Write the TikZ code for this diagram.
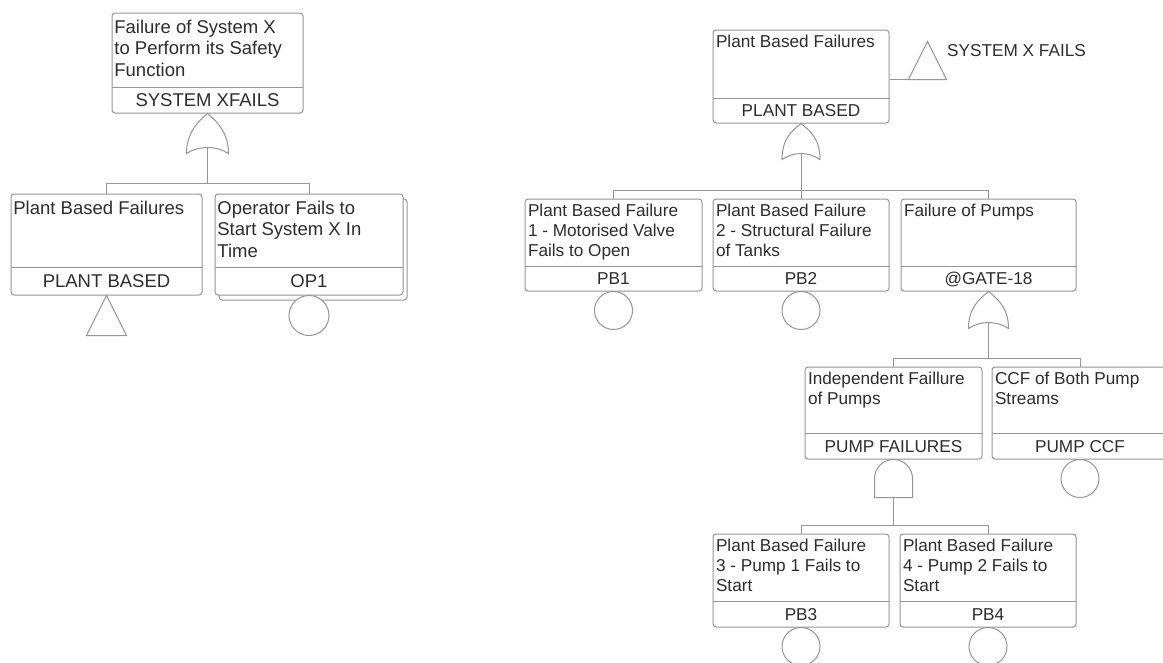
\documentclass[tikz,border=0pt]{standalone}
\usepackage{fontspec}
\setmainfont{Liberation Sans}
\usetikzlibrary{fit,calc}
\definecolor{lncol}{RGB}{150,150,150}
\definecolor{txtcol}{RGB}{45,45,45}
\tikzset{
  ln/.style={draw=lncol, line width=1pt},
  evbox/.style={ln, fill=white, rounded corners=3pt, inner sep=0pt},
  descL/.style={font=\fontsize{18.5}{21.3}\selectfont, text=txtcol, inner sep=0pt, align=left, anchor=north west, xshift=2.7pt, yshift=-7.5pt},
  descR/.style={font=\fontsize{17.2}{20.3}\selectfont, text=txtcol, inner sep=0pt, align=left, anchor=north west, xshift=3.3pt, yshift=-5pt},
  codeL/.style={font=\fontsize{18.5}{21.3}\selectfont, text=txtcol, inner sep=0pt, anchor=base, yshift=-6.6pt},
  codeR/.style={font=\fontsize{17.2}{20.3}\selectfont, text=txtcol, inner sep=0pt, anchor=base, yshift=-6.2pt},
  evcirc/.style={ln, fill=white, circle, minimum size=38pt, inner sep=0pt},
}
% name, x1, y1, x2, y2, ydiv, description, code, L/R
\newcommand\evbox[9]{%
  \node[evbox, fit={(#2,#3) (#4,#5)}] (#1) {};
  \draw[ln] (#2,#6) -- (#4,#6);
  \node[desc#9] (#1-d) at (#1.north west) {#7};
  \node[code#9] (#1-c) at ({(#2+#4)/2},{(#6+#5)/2}) {#8};
}
% OR gate under node #1: height #2, half width #3, bar depth #4
\newcommand\orgate[4]{%
  \coordinate (#1-g) at (#1.south);
  \draw[ln] ($(#1-g)+(-#3,#2)$) .. controls +(0,-20) and +(-10,8) .. (#1-g)
     .. controls +(10,8) and +(0,-20) .. ($(#1-g)+(#3,#2)$)
     .. controls +(-12,-8) and +(12,-8) .. ($(#1-g)+(-#3,#2)$) -- cycle;
  \coordinate (#1-in) at ($(#1-g)+(0,#2-6)$);
  \coordinate (#1-bar) at ($(#1-g)+(0,#4)$);
  \draw[ln] (#1-in) -- (#1-bar);
}
% AND gate under node #1: height #2, half width #3, bar depth #4
\newcommand\andgate[4]{%
  \coordinate (#1-g) at (#1.south);
  \draw[ln] ($(#1-g)+(-#3,#2)$) -- ++(0,-#2+#3) arc[start angle=180, end angle=0, radius=#3pt] -- ++(0,#2-#3) -- cycle;
  \coordinate (#1-in) at ($(#1-g)+(0,#2)$);
  \coordinate (#1-bar) at ($(#1-g)+(0,#4)$);
  \draw[ln] (#1-in) -- (#1-bar);
}
\begin{document}
\begin{tikzpicture}[x=1pt,y=-1pt]
\useasboundingbox (0,0) rectangle (1163,662);
\fill[white] (0,0) rectangle (1163,662);
\clip (0,0) rectangle (1163,662);

% ---------- left tree ----------
\evbox{sysx}{112}{13}{303}{113}{87}{Failure of System X\\to Perform its Safety\\Function}{SYSTEM XFAILS}{L}
\evbox{plantL}{11}{194}{202}{295}{267}{Plant Based Failures}{PLANT BASED}{L}
\node[evbox, fit={(219,199) (407,300)}] (op1s) {};
\evbox{op1}{215}{194}{403}{295}{267}{Operator Fails to\\Start System X In\\Time}{OP1}{L}
\orgate{sysx}{40}{21}{70}
\draw[ln] (sysx-bar) -| (plantL.north);
\draw[ln] (sysx-bar) -| (op1.north);
\draw[ln] (plantL.south) -- ++(20,40) -- ++(-40,0) -- cycle;
\node[evcirc, minimum size=40pt] (op1-e) at ($(op1.south)+(0,20)$) {};

% ---------- right tree ----------
\evbox{pbtop}{713}{30}{889}{123}{98}{Plant Based Failures}{PLANT BASED}{R}
\coordinate (xfl) at ($(pbtop.north east)+(0,50)$);
\coordinate (xft) at ($(xfl)+(19,0)$);
\draw[ln] (xfl) -- (xft);
\draw[ln] (xft) -- ++(38,0) -- ++(-19,-38) -- cycle;
\node[font=\fontsize{17.2}{20.3}\selectfont, text=txtcol, inner sep=0pt, anchor=base west] (xfails) at (947,56.7) {SYSTEM X FAILS};

\evbox{pb1}{525}{199}{702}{291}{266}{Plant Based Failure\\1 - Motorised Valve\\Fails to Open}{PB1}{R}
\evbox{pb2}{713}{199}{889}{291}{266}{Plant Based Failure\\2 - Structural Failure\\of Tanks}{PB2}{R}
\evbox{pumps}{901}{199}{1076}{291}{266}{Failure of Pumps}{@GATE-18}{R}
\orgate{pbtop}{36}{19}{67}
\draw[ln] (pbtop-bar) -| (pb1.north);
\draw[ln] (pbtop-bar) -| (pb2.north);
\draw[ln] (pbtop-bar) -| (pumps.north);
\node[evcirc] (pb1-e) at ($(pb1.south)+(0,19)$) {};
\node[evcirc] (pb2-e) at ($(pb2.south)+(0,19)$) {};

\evbox{indep}{805}{367}{982}{459}{433}{Independent Faillure\\of Pumps}{PUMP FAILURES}{R}
\evbox{ccf}{992}{367}{1168}{459}{433}{CCF of Both Pump\\Streams}{PUMP CCF}{R}
\orgate{pumps}{37}{20}{67}
\draw[ln] (pumps-bar) -| (indep.north);
\draw[ln] (pumps-bar) -| (ccf.north);
\node[evcirc] (ccf-e) at ($(ccf.south)+(0,19)$) {};

\evbox{pb3}{713}{534}{889}{627}{601}{Plant Based Failure\\3 - Pump 1 Fails to\\Start}{PB3}{R}
\evbox{pb4}{900}{534}{1076}{627}{601}{Plant Based Failure\\4 - Pump 2 Fails to\\Start}{PB4}{R}
\andgate{indep}{38}{19}{66}
\draw[ln] (indep-bar) -| (pb3.north);
\draw[ln] (indep-bar) -| (pb4.north);
\node[evcirc] (pb3-e) at ($(pb3.south)+(0,19)$) {};
\node[evcirc] (pb4-e) at ($(pb4.south)+(0,19)$) {};
\end{tikzpicture}
\end{document}
